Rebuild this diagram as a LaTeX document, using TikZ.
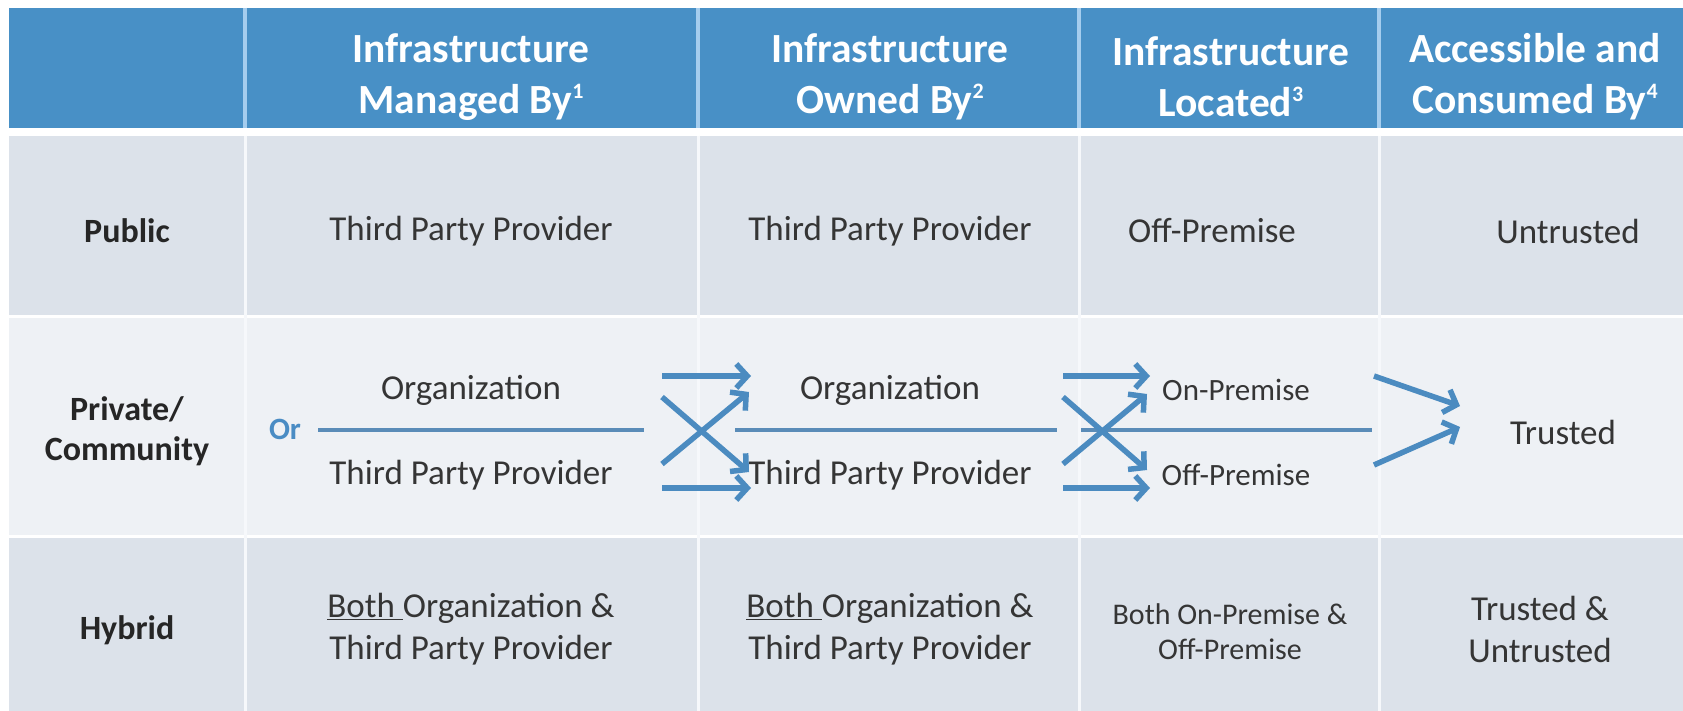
\documentclass[tikz,border=0pt]{standalone}
\usepackage{fontspec}
\setmainfont{Carlito}
\usetikzlibrary{arrows.meta}
\definecolor{hdrblue}{HTML}{4890C6}
\definecolor{hdrline}{HTML}{A5CDEE}
\definecolor{rowdark}{HTML}{DCE2EA}
\definecolor{rowlight}{HTML}{EEF1F5}
\definecolor{divline}{HTML}{F6F8FB}
\definecolor{arrowblue}{HTML}{4B8BC0}
\definecolor{linkblue}{HTML}{5A8CB8}
\definecolor{txt}{HTML}{353535}
\definecolor{orblue}{HTML}{4A8CC4}
\newcommand{\supnum}[1]{\raisebox{15pt}{\fontsize{22}{22}\selectfont #1}}
\begin{document}
\begin{tikzpicture}[x=1pt,y=-1pt,
  hdr/.style={font=\fontsize{41.5}{51}\selectfont\bfseries, text=white, align=center, inner sep=0pt},
  cell/.style={font=\fontsize{35}{42}\selectfont, text=txt, align=center, inner sep=0pt},
  smallcell/.style={font=\fontsize{30}{35}\selectfont, text=txt, align=center, inner sep=0pt},
  midcell/.style={font=\fontsize{31}{38}\selectfont, text=txt, align=center, inner sep=0pt},
  rowhead/.style={font=\fontsize{34}{40}\selectfont\bfseries, text=black!85, align=center, inner sep=0pt},
  flow/.style={draw=arrowblue, line width=5.5pt, -{Straight Barb[length=11pt,width=24pt]}},
  link/.style={draw=linkblue, line width=4pt}
]
\useasboundingbox (0,0) rectangle (1683,711);
\fill[white] (0,0) rectangle (1683,711);
% backgrounds
\fill[hdrblue] (9,8) rectangle (1683,128);
\fill[rowdark] (9,136) rectangle (1683,315);
\fill[rowlight] (9,318) rectangle (1683,535);
\fill[rowdark] (9,538) rectangle (1683,711);
\foreach \x in {245,698,1079,1379}{
  \draw[hdrline, line width=3.5pt] (\x,8) -- (\x,128);
  \draw[divline, line width=3pt] (\x,136) -- (\x,711);
}
% header
\node[hdr] (h1) at (471,77) {Infrastructure\\Managed By\supnum{1}};
\node[hdr] (h2) at (890,77) {Infrastructure\\Owned By\supnum{2}};
\node[hdr] (h3) at (1231,77) {Infrastructure\\Located\supnum{3}};
\node[hdr] (h4) at (1535,77) {Accessible and\\Consumed By\supnum{4}};
% row 1
\node[rowhead] (pub) at (127,231) {Public};
\node[cell] (p1) at (471,231) {Third Party Provider};
\node[cell] (p2) at (890,231) {Third Party Provider};
\node[cell] (p3) at (1212,231) {Off-Premise};
\node[cell] (p4) at (1568,231) {Untrusted};
% row 2
\node[rowhead] (priv) at (127,431) {Private/\\Community};
\node[font=\fontsize{31}{36}\selectfont\bfseries, text=orblue, inner sep=0pt] (or) at (285,429) {Or};
\node[cell] (o1) at (471,390) {Organization};
\node[cell] (t1) at (471,475) {Third Party Provider};
\node[cell] (o2) at (890,390) {Organization};
\node[cell] (t2) at (890,475) {Third Party Provider};
\node[midcell] (on3) at (1236,390) {On-Premise};
\node[midcell] (off3) at (1236,475) {Off-Premise};
\node[cell] (tr4) at (1563,432) {Trusted};
% row 3
\node[rowhead] (hyb) at (127,630) {Hybrid};
\node[cell] (b1) at (471,629) {\underline{Both\ }Organization \&\\Third Party Provider};
\node[cell] (b2) at (890,629) {\underline{Both\ }Organization \&\\Third Party Provider};
\node[smallcell] (b3) at (1230,632) {Both On-Premise \&\\Off-Premise};
\node[cell] (b4) at (1540,629) {Trusted \&\\Untrusted};
% divider lines in row 2
\coordinate (l1s) at (318,430); \coordinate (l1e) at (644,430);
\coordinate (l2s) at (735,430); \coordinate (l2e) at (1057,430);
\coordinate (l3s) at (1081,430); \coordinate (l3e) at (1372,430);
\draw[link] (l1s) -- (l1e);
\draw[link] (l2s) -- (l2e);
\draw[link] (l3s) -- (l3e);
% arrows group 1
\coordinate (a1s) at (662,376); \coordinate (a1e) at (751,376);
\coordinate (a2s) at (662,488); \coordinate (a2e) at (751,488);
\coordinate (a3s) at (662,397); \coordinate (a3e) at (749,472);
\coordinate (a4s) at (662,464); \coordinate (a4e) at (749,392);
\draw[flow] (a1s) -- (a1e);
\draw[flow] (a2s) -- (a2e);
\draw[flow] (a3s) -- (a3e);
\draw[flow] (a4s) -- (a4e);
% arrows group 2
\coordinate (b1s) at (1063,376); \coordinate (b1e) at (1150,376);
\coordinate (b2s) at (1063,488); \coordinate (b2e) at (1150,488);
\coordinate (b3s) at (1063,397); \coordinate (b3e) at (1147,470);
\coordinate (b4s) at (1063,464); \coordinate (b4e) at (1147,394);
\draw[flow] (b1s) -- (b1e);
\draw[flow] (b2s) -- (b2e);
\draw[flow] (b3s) -- (b3e);
\draw[flow] (b4s) -- (b4e);
% arrows group 3
\coordinate (c1s) at (1374,376); \coordinate (c1e) at (1460,406);
\coordinate (c2s) at (1374,465); \coordinate (c2e) at (1460,427);
\draw[flow] (c1s) -- (c1e);
\draw[flow] (c2s) -- (c2e);
\end{tikzpicture}
\end{document}
